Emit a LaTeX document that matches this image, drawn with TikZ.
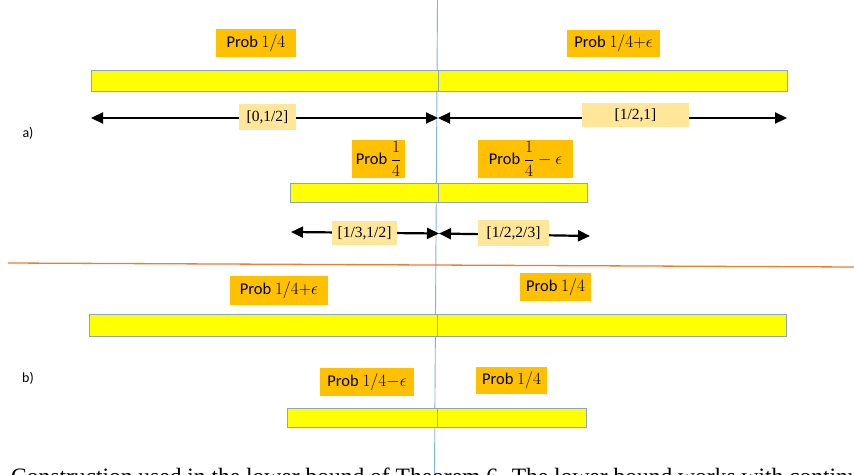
\documentclass[tikz,border=0pt]{standalone}
\usepackage{fontspec}
\setmainfont{Carlito}
\newfontfamily\serifnum{Liberation Serif}
\usetikzlibrary{arrows.meta}
\definecolor{gold}{HTML}{FFC000}
\definecolor{paleg}{HTML}{FFE699}
\definecolor{barfill}{HTML}{FFFF00}
\definecolor{barline}{HTML}{8AA4C4}
\definecolor{guide}{HTML}{7FB2E5}
\definecolor{divider}{HTML}{ED7D31}
\tikzset{
  barbox/.style={draw=barline, line width=0.9pt, fill=barfill, inner sep=0pt},
  probbox/.style={fill=gold, inner sep=0pt, font=\fontsize{16.5}{18}\selectfont},
  rangebox/.style={fill=paleg, inner sep=0pt, font=\serifnum\fontsize{15.5}{17}\selectfont},
  spanarrow/.style={line width=2.2pt, {Triangle[length=12pt,width=11pt]}-{Triangle[length=12pt,width=11pt]}},
  parttag/.style={inner sep=0pt, font=\fontsize{14}{16}\selectfont}
}
\begin{document}
\begin{tikzpicture}[x=1pt,y=-1pt]
\useasboundingbox (0,0) rectangle (854,474);
\clip (0,0) rectangle (854,474);
\fill[white] (0,0) rectangle (854,474);

% caption of the figure, cut by the lower edge
\node[anchor=base west, inner sep=0pt, font=\serifnum\fontsize{23.5}{27}\selectfont] (cap) at (11,484)
  {Construction used in the lower bound of Theorem 6. The lower bound works with continuation};

% guide lines
\coordinate (vt) at (437.5,0);
\coordinate (vb) at (434.5,474);
\draw[guide, line width=0.9pt] (vt) -- (vb);
\coordinate (hl) at (8,263);
\coordinate (hr) at (854,267);
\draw[divider, line width=1.3pt] (hl) -- (hr);

% part labels
\node[parttag] (la) at (28,133) {a)};
\node[parttag] (lb) at (28,378) {b)};

% ---- part a) ----
\node[barbox, minimum width=347pt, minimum height=21pt] (a1) at (264.5,80.5) {};
\node[barbox, minimum width=349pt, minimum height=21pt] (a2) at (612.5,80.5) {};

\coordinate (s1) at (91,118);
\coordinate (s2) at (438,118);
\coordinate (s3) at (787,118);
\draw[spanarrow] (s1) -- (s2);
\draw[spanarrow] (s2) -- (s3);

\node[probbox, minimum width=80pt, minimum height=28pt] (p1) at (256,43) {Prob $1/4$};
\node[probbox, minimum width=93pt, minimum height=27pt] (p2) at (613.5,43.5) {Prob $1/4{+}\epsilon$};
\node[rangebox, minimum width=57pt, minimum height=26pt] (r1) at (267.5,117) {[0,1/2]};
\node[rangebox, minimum width=107pt, minimum height=24pt] (r2) at (635.5,115) {[1/2,1]};

\node[barbox, minimum width=148pt, minimum height=19pt] (a3) at (364,192.5) {};
\node[barbox, minimum width=149pt, minimum height=19pt] (a4) at (512.5,192.5) {};

\coordinate (t1) at (291,232);
\coordinate (t2) at (439,233.5);
\coordinate (t3) at (590,236);
\draw[spanarrow] (t1) -- (t2);
\draw[spanarrow] (t2) -- (t3);

\node[probbox, minimum width=53pt, minimum height=38pt] (p3) at (378.5,159) {Prob $\displaystyle\frac{1}{4}$};
\node[probbox, minimum width=95pt, minimum height=38pt] (p4) at (525.5,159) {Prob $\displaystyle\frac{1}{4}-\epsilon$};
\node[rangebox, minimum width=65pt, minimum height=24pt] (r3) at (364.5,233) {[1/3,1/2]};
\node[rangebox, minimum width=71pt, minimum height=26pt] (r4) at (513.5,233) {[1/2,2/3]};

% ---- part b) ----
\node[barbox, minimum width=348pt, minimum height=22pt] (b1) at (263,325) {};
\node[barbox, minimum width=349pt, minimum height=22pt] (b2) at (611.5,325) {};
\node[probbox, minimum width=98pt, minimum height=29pt] (p5) at (279,290.5) {Prob $1/4{+}\epsilon$};
\node[probbox, minimum width=71pt, minimum height=28pt] (p6) at (555.5,287) {Prob $1/4$};

\node[barbox, minimum width=150pt, minimum height=19pt] (b3) at (362,417.5) {};
\node[barbox, minimum width=149pt, minimum height=19pt] (b4) at (511.5,417.5) {};
\node[probbox, minimum width=94pt, minimum height=28pt] (p7) at (367,382) {Prob $1/4{-}\epsilon$};
\node[probbox, minimum width=71pt, minimum height=27pt] (p8) at (511.5,380.5) {Prob $1/4$};
\end{tikzpicture}
\end{document}
